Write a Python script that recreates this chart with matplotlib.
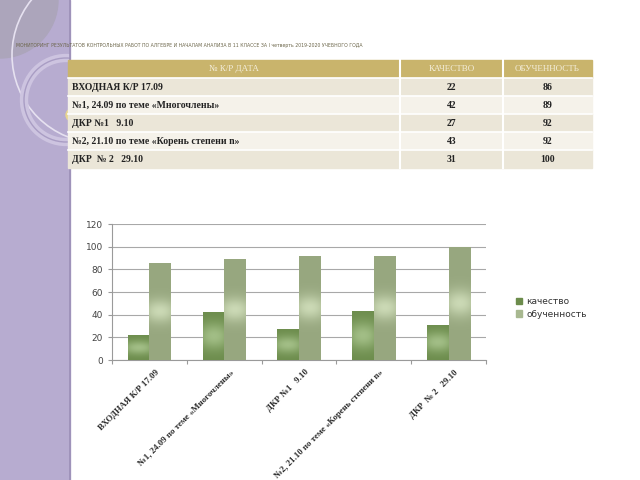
import numpy as np
import matplotlib
matplotlib.use("Agg")
import matplotlib.pyplot as plt
from matplotlib.patches import Rectangle, Circle, Wedge
from matplotlib.lines import Line2D

# DATA
title = ("МОНИТОРИНГ РЕЗУЛЬТАТОВ КОНТРОЛЬНЫХ РАБОТ ПО АЛГЕБРЕ И НАЧАЛАМ АНАЛИЗА "
         "В 11 КЛАССЕ ЗА I четверть 2019-2020 УЧЕБНОГО ГОДА")
col_headers = ["№ К/Р ДАТА", "КАЧЕСТВО", "ОБУЧЕННОСТЬ"]
works = ["ВХОДНАЯ К/Р 17.09",
         "№1, 24.09 по теме «Многочлены»",
         "ДКР №1   9.10",
         "№2, 21.10 по теме «Корень степени n»",
         "ДКР  № 2   29.10"]
kachestvo = [22, 42, 27, 43, 31]
obuchennost = [86, 89, 92, 92, 100]
series_names = ["качество", "обученность"]
y_ticks = [0, 20, 40, 60, 80, 100, 120]

W, H = 640, 480
fig = plt.figure(figsize=(6.4, 4.8), dpi=100)
fig.patch.set_facecolor("white")

# background / slide decoration in pixel coords
bg = fig.add_axes([0, 0, 1, 1])
bg.set_xlim(0, W)
bg.set_ylim(H, 0)
bg.axis("off")
side = Rectangle((0, 0), 70, H, color="#b7acd0", zorder=1)
bg.add_patch(side)
deco = [Wedge((0, 0), 58, 0, 90, color="#aca5bb", zorder=2),
        Circle((100, 55), 88, fill=False, ec="#e6e1f0", lw=1.2, zorder=3),
        Circle((66, 100), 42, fill=False, ec="#cdc4e0", lw=6, zorder=3),
        Circle((66, 100), 42, fill=False, ec="#a99dc4", lw=1, zorder=3)]
for p in deco:
    bg.add_patch(p)
    p.set_clip_path(side)
bg.add_line(Line2D([70, 70], [0, H], color="#9b8fb6", lw=1.2, zorder=3))
bg.add_patch(Circle((72, 115), 6, color="#e9d68e", zorder=4))

bg.text(16, 45, title, fontsize=3.3, color="#6a6448", va="center", zorder=5)

# TABLE
col_x = [68, 400, 503, 592]
row_y = [60, 78, 96, 114, 132, 150, 168]
serif = "Liberation Serif"
bg.add_patch(Rectangle((col_x[0], row_y[0]), col_x[-1] - col_x[0], row_y[1] - row_y[0],
                       color="#c9b46c", zorder=5))
for j, h in enumerate(col_headers):
    bg.text((col_x[j] + col_x[j + 1]) / 2, (row_y[0] + row_y[1]) / 2, h,
            ha="center", va="center", fontsize=6.5, color="#f4eedb",
            family=serif, zorder=6)
rows = list(zip(works, kachestvo, obuchennost))
for i, (name, k, o) in enumerate(rows):
    y0, y1 = row_y[i + 1], row_y[i + 2]
    fc = "#ebe6d8" if i % 2 == 0 else "#f5f2ea"
    bg.add_patch(Rectangle((col_x[0], y0), col_x[-1] - col_x[0], y1 - y0, color=fc, zorder=5))
    ym = (y0 + y1) / 2
    bg.text(col_x[0] + 4, ym, name, ha="left", va="center", fontsize=7,
            fontweight="bold", family=serif, color="#222222", zorder=6)
    bg.text((col_x[1] + col_x[2]) / 2, ym, str(k), ha="center", va="center", fontsize=7,
            fontweight="bold", family=serif, color="#222222", zorder=6)
    bg.text((col_x[2] + col_x[3]) / 2, ym, str(o), ha="center", va="center", fontsize=7,
            fontweight="bold", family=serif, color="#222222", zorder=6)
for x in col_x[1:-1]:
    bg.add_line(Line2D([x, x], [row_y[0], row_y[-1]], color="white", lw=1.5, zorder=7))
for y in row_y[1:-1]:
    bg.add_line(Line2D([col_x[0], col_x[-1]], [y, y], color="white", lw=1.2, zorder=7))

# CHART
ax = fig.add_axes([112 / W, 1 - 360 / H, (486 - 112) / W, (360 - 224) / H])
ax.set_facecolor("none")
x = np.arange(len(works))
bw = 0.29


def shaded_bars(xs, heights, base, light, rel_sigma):
    base = np.array(matplotlib.colors.to_rgb(base))
    light = np.array(matplotlib.colors.to_rgb(light))
    bars = ax.bar(xs, heights, bw, color=base, zorder=2)
    for b, h in zip(bars, heights):
        yy = np.linspace(0, 1, 120)[:, None]
        xx = np.linspace(-1, 1, 30)[None, :]
        f = np.exp(-((yy - 0.5) / rel_sigma) ** 2) * (1 - 0.35 * xx ** 2)
        img = base + (light - base) * f[..., None]
        im = ax.imshow(img, extent=(b.get_x(), b.get_x() + bw, 0, h), origin="lower",
                       aspect="auto", zorder=3, interpolation="bilinear")
        im.set_clip_path(b)


shaded_bars(x - bw / 2, kachestvo, "#6c8c4c", "#a2be86", 0.28)
shaded_bars(x + bw / 2, obuchennost, "#97a77f", "#cbd9b5", 0.12)

ax.set_xlim(-0.5, len(works) - 0.5)
ax.set_ylim(0, 120)
ax.set_yticks(y_ticks)
ax.yaxis.grid(True, color="#a8a8a8", lw=0.8, zorder=0)
ax.set_axisbelow(True)
for s in ["top", "right"]:
    ax.spines[s].set_visible(False)
ax.spines["left"].set_color("#9a9a9a")
ax.spines["bottom"].set_color("#9a9a9a")
ax.tick_params(axis="y", labelsize=6.5, colors="#9a9a9a", labelcolor="#444444", length=3)
ax.set_xticks(np.arange(-0.5, len(works), 1), minor=False)
ax.set_xticklabels([])
ax.tick_params(axis="x", length=3, colors="#9a9a9a")
for xi, name in zip(x, works):
    ax.annotate(name, xy=(xi, 0), xycoords=("data", "axes fraction"),
                xytext=(4, -6), textcoords="offset points", rotation=45,
                ha="right", va="top", rotation_mode="anchor", fontsize=6.3,
                fontweight="bold", family=serif, color="#2a2a2a")

handles = [Rectangle((0, 0), 1, 1, color="#6c8c4c"), Rectangle((0, 0), 1, 1, color="#a8b890")]
fig.legend(handles, series_names, loc="center left", bbox_to_anchor=(508 / W, 1 - 308 / H),
           frameon=False, fontsize=6.5, handlelength=0.7, handleheight=0.7,
           handletextpad=0.4, labelspacing=0.4, labelcolor="#333333")

fig.savefig("out.png", dpi=100)
